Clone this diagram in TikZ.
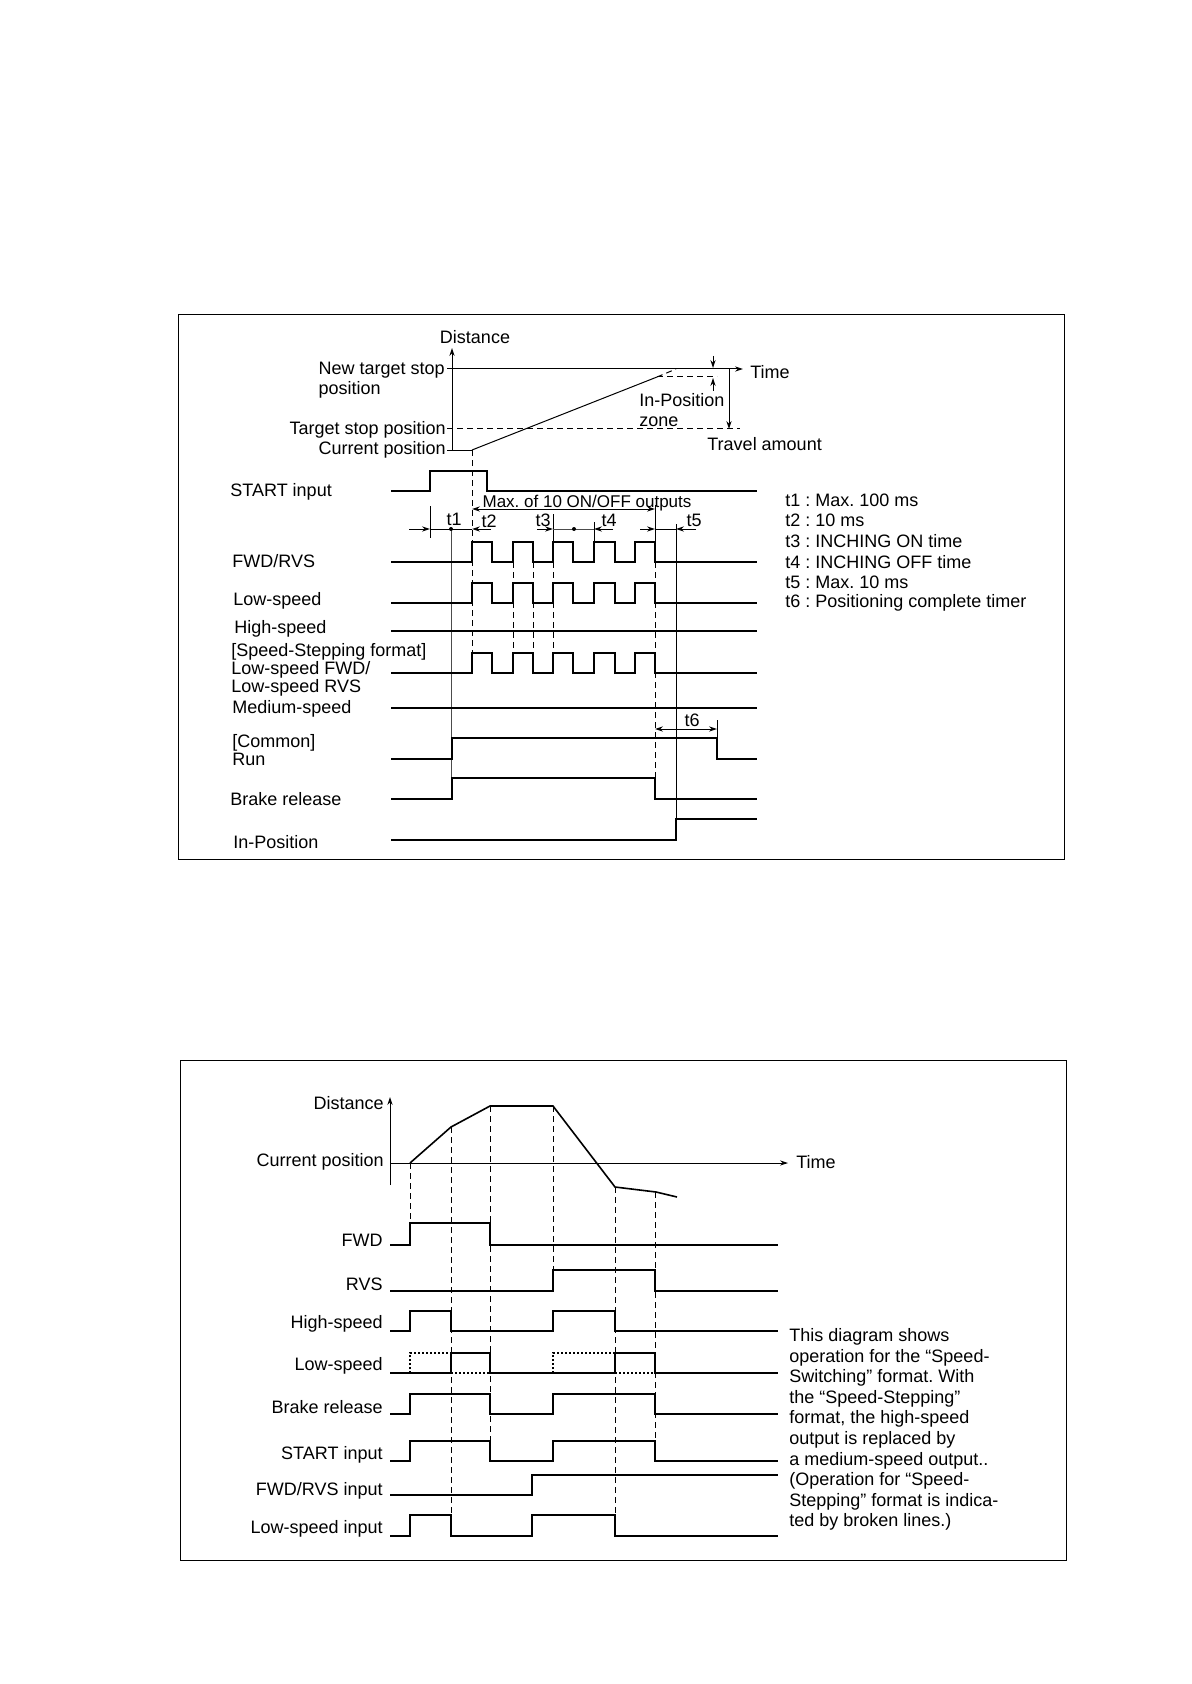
\documentclass[tikz,border=0pt]{standalone}
\usepackage{fontspec}
\setmainfont{Liberation Sans}
\usetikzlibrary{arrows.meta}
\frenchspacing

\tikzset{
  sig/.style={color=black!100, line width=0.8pt},
  thin line/.style={color=black!100, line width=0.5pt},
  guide/.style={color=black!100, line width=0.5pt, dash pattern=on 3pt off 2pt},
  dots/.style={color=black!100, line width=0.6pt, dash pattern=on 0.8pt off 1.2pt},
  tip/.style={-{Stealth[length=4pt,width=2.6pt]}},
  both tips/.style={{Stealth[length=4pt,width=2.6pt]}-{Stealth[length=4pt,width=2.6pt]}},
  lbl/.style={font=\fontsize{9}{10.3}\selectfont, inner sep=0pt},
  tight lbl/.style={font=\fontsize{9}{9}\selectfont, inner sep=0pt, align=left}
}

\begin{document}
\begin{tikzpicture}[x=0.5pt, y=-0.5pt]
  \useasboundingbox (0,0) rectangle (1191,1684);

  \draw[thin line] (178,315) rectangle (1064,859);

  \draw[thin line, tip] (452,450) -- (452,348);
  \node[lbl] (distA) at (475,337) {Distance};
  \draw[thin line, tip] (447,369) -- (743,369);
  \node[lbl, anchor=west] (timeA) at (750,372) {Time};
  \node[lbl, anchor=east, align=left] (newtgt) at (445,380) {New target stop\\position};
  \draw[guide] (447,429) -- (740,429);
  \node[lbl, anchor=east] (tgt) at (446,430) {Target stop position};
  \draw[thin line] (447,450) -- (472,450);
  \node[lbl, anchor=east] (curA) at (446,450) {Current position};
  \draw[thin line] (472,450) -- (657,377);
  \draw[guide] (657,377) -- (676,369);
  \draw[guide] (657,377) -- (717,377);
  \draw[thin line, tip] (713,356) -- (713,368);
  \draw[thin line, tip] (713,391) -- (713,378);
  \node[lbl, anchor=west, align=left] (inpos) at (639,410) {In-Position\\zone};
  \draw[thin line, tip] (729,369) -- (729,429);
  \node[lbl, anchor=west] (travel) at (707,444) {Travel amount};

  \draw[guide] (472,450) -- (472,653);
  \foreach \x in {513,533,553}
    \draw[guide] (\x,562) -- (\x,653);
  \draw[guide] (655,562) -- (655,799);
  \draw[thin line, color=black!70] (451,529) -- (451,778);
  \draw[thin line] (676,524) -- (676,819);

  \draw[sig] (391,491) -| (430,471) -| (487,491) -- (757,491);
  \draw[thin line, both tips] (472,509) -- (655,509);
  \node[lbl, font=\fontsize{8.5}{10}\selectfont] (maxout) at (587,503) {Max. of 10 ON/OFF outputs};

  \draw[thin line, tip] (409,529) -- (430,529);
  \draw[thin line] (430,506) -- (430,538);
  \draw[thin line] (430,529) -- (472,529);
  \fill (451,529) circle (2);
  \draw[thin line, tip] (491,529) -- (472,529);
  \node[lbl] (tone) at (454,519) {t1};
  \node[lbl] (ttwo) at (489,521) {t2};
  \draw[thin line, tip] (537,529) -- (553,529);
  \draw[thin line] (553,514) -- (553,542);
  \draw[thin line, color=black!70] (553,529) -- (594,529);
  \fill (574,529) circle (2);
  \draw[thin line] (594,522) -- (594,542);
  \draw[thin line, tip] (613,529) -- (594,529);
  \node[lbl] (tthree) at (543,520) {t3};
  \node[lbl] (tfour) at (609,520) {t4};
  \draw[thin line, tip] (640,529) -- (655,529);
  \draw[thin line] (655,505) -- (655,542);
  \draw[thin line] (655,529) -- (676,529);
  \draw[thin line, tip] (696,529) -- (676,529);
  \node[lbl] (tfive) at (694,520) {t5};

  \foreach \lo/\hi in {562/542, 603/583, 673/653}
    \draw[sig] (391,\lo) -| (472,\hi) -| (492,\lo) -| (513,\hi) -| (533,\lo)
      -| (553,\hi) -| (573,\lo) -| (594,\hi) -| (615,\lo) -| (635,\hi)
      -| (655,\lo) -- (757,\lo);
  \draw[sig] (391,631) -- (757,631);
  \draw[sig] (391,708) -- (757,708);
  \draw[sig] (391,759) -| (452,738) -| (717,759) -- (757,759);
  \draw[sig] (391,799) -| (452,778) -| (655,799) -- (757,799);
  \draw[sig] (391,840) -| (676,819) -- (757,819);

  \draw[thin line, both tips] (655,729) -- (717,729);
  \draw[thin line] (717,720) -- (717,738);
  \node[lbl] (tsix) at (692,720) {t6};

  \node[lbl, anchor=west] (startA) at (230,492) {START input};
  \node[lbl, anchor=west] (fwdrvsA) at (232,561) {FWD/RVS};
  \node[lbl, anchor=west] (lowA) at (233,601) {Low-speed};
  \node[lbl, anchor=west] (highA) at (234,629) {High-speed};
  \node[tight lbl, anchor=west] (stepA) at (231,670) {[Speed-Stepping format]\\Low-speed FWD/\\Low-speed RVS};
  \node[lbl, anchor=west] (medA) at (232,709) {Medium-speed};
  \node[tight lbl, anchor=west] (runA) at (232,750) {[Common]\\Run};
  \node[lbl, anchor=west] (brakeA) at (230,799) {Brake release};
  \node[lbl, anchor=west] (inposA) at (233,842) {In-Position};

  \node[lbl, anchor=west] (leg1) at (785,500) {t1 : Max. 100 ms};
  \node[lbl, anchor=west] (leg2) at (785,520.6) {t2 : 10 ms};
  \node[lbl, anchor=west] (leg3) at (785,541.2) {t3 : INCHING ON time};
  \node[lbl, anchor=west] (leg4) at (785,561.8) {t4 : INCHING OFF time};
  \node[lbl, anchor=west] (leg5) at (785,582.4) {t5 : Max. 10 ms};
  \node[lbl, anchor=west] (leg6) at (785,603) {t6 : Positioning complete timer};

  \draw[thin line] (180,1060) rectangle (1066,1560);

  \draw[thin line, tip] (390,1185) -- (390,1097);
  \draw[thin line, tip] (390,1163) -- (788,1163);
  \node[lbl, anchor=east] (distB) at (384,1103) {Distance};
  \node[lbl, anchor=east] (curB) at (384,1162) {Current position};
  \node[lbl, anchor=west] (timeB) at (796,1162) {Time};
  \draw[sig] (410,1163) -- (451,1127) -- (490,1106) -- (553,1106) -- (615,1187)
    -- (656,1192) -- (677,1197);

  \draw[guide] (410,1163) -- (410,1223);
  \draw[guide] (451,1127) -- (451,1515);
  \draw[guide] (490,1106) -- (490,1441);
  \draw[guide] (553,1106) -- (553,1270);
  \draw[guide] (615,1187) -- (615,1515);
  \draw[guide] (655,1192) -- (655,1441);

  \draw[sig] (390,1245) -| (410,1223) -| (490,1245) -- (778,1245);
  \draw[sig] (390,1291) -| (553,1270) -| (655,1291) -- (778,1291);
  \draw[sig] (390,1331) -| (410,1311) -| (451,1331) -| (553,1311) -| (615,1331) -- (778,1331);
  \draw[sig] (390,1373) -| (451,1353) -| (490,1373) -| (615,1353) -| (655,1373) -- (778,1373);
  \draw[dots] (410,1373) |- (451,1353);
  \draw[dots] (451,1373) -- (490,1373);
  \draw[dots] (553,1373) |- (615,1353);
  \draw[dots] (615,1373) -- (655,1373);
  \foreach \lo/\hi in {1414/1394, 1461/1441}
    \draw[sig] (390,\lo) -| (410,\hi) -| (490,\lo) -| (553,\hi) -| (655,\lo) -- (778,\lo);
  \draw[sig] (390,1495) -| (532,1475) -- (778,1475);
  \draw[sig] (390,1536) -| (410,1515) -| (451,1536) -| (532,1515) -| (615,1536) -- (778,1536);

  \node[lbl, anchor=east] (fwdB) at (383,1240) {FWD};
  \node[lbl, anchor=east] (rvsB) at (383,1284) {RVS};
  \node[lbl, anchor=east] (highB) at (383,1324) {High-speed};
  \node[lbl, anchor=east] (lowB) at (383,1366) {Low-speed};
  \node[lbl, anchor=east] (brakeB) at (383,1407) {Brake release};
  \node[lbl, anchor=east] (startB) at (383,1455) {START input};
  \node[lbl, anchor=east] (fwdrvsB) at (383,1491) {FWD/RVS input};
  \node[lbl, anchor=east] (lowinB) at (383,1529) {Low-speed input};

  \node[lbl, anchor=north west, align=left] (note) at (789,1328)
    {This diagram shows\\operation for the “Speed-\\Switching” format. With\\the “Speed-Stepping”\\format, the high-speed\\output is replaced by\\a medium-speed output..\\(Operation for “Speed-\\Stepping” format is indica-\\ted by broken lines.)};
\end{tikzpicture}
\end{document}
